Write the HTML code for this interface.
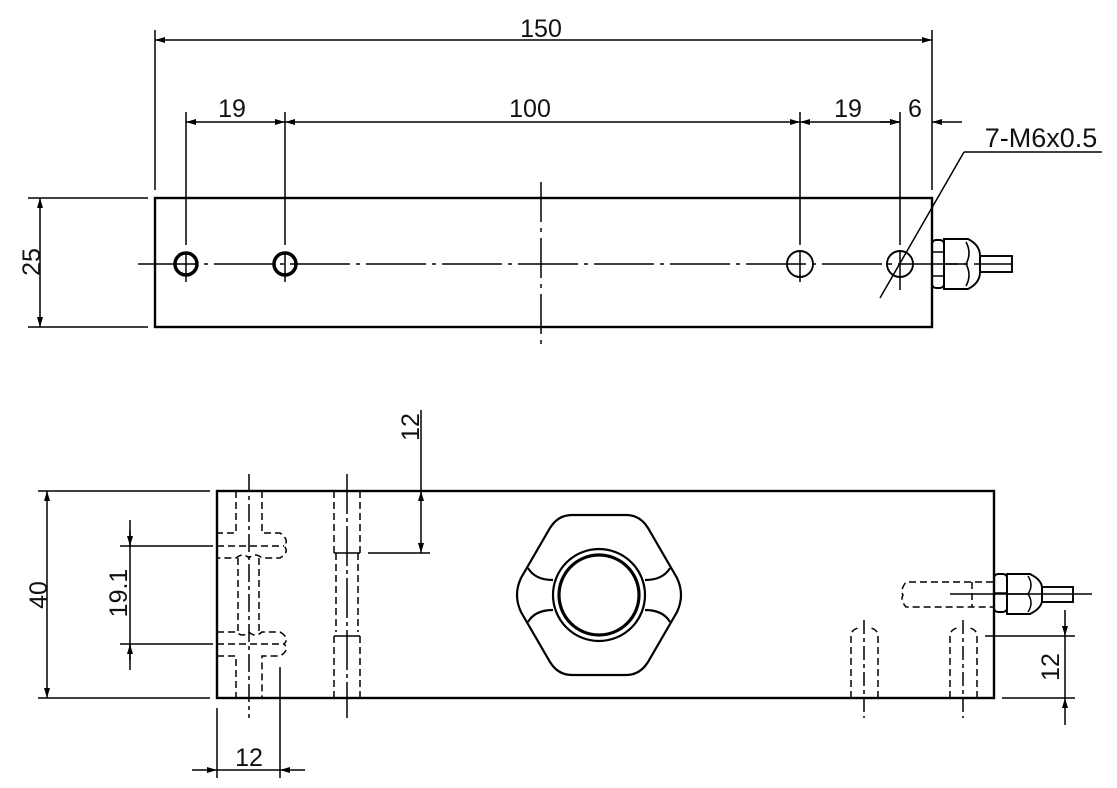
<!DOCTYPE html>
<html><head><style>
html,body{margin:0;padding:0;background:#fff;}
svg{display:block;}
text{font-family:"Liberation Sans",sans-serif;font-size:25px;fill:#111;}
</style></head><body>
<svg width="1117" height="788" viewBox="0 0 1117 788" xmlns="http://www.w3.org/2000/svg">
<defs>
<marker id="a" viewBox="0 0 10 6" refX="10" refY="3" markerWidth="10" markerHeight="6" orient="auto-start-reverse" markerUnits="userSpaceOnUse"><path d="M0,0 L10,3 L0,6 z" fill="#000"/></marker>
</defs>
<g stroke="#000" fill="none" stroke-width="1.5">
<!-- TOP VIEW -->
<rect x="155" y="198" width="777" height="129" stroke-width="2.4"/>
<line x1="155" y1="30" x2="155" y2="190"/>
<line x1="932" y1="30" x2="932" y2="190"/>
<line x1="155" y1="40" x2="932" y2="40" marker-start="url(#a)" marker-end="url(#a)"/>
<line x1="186" y1="112" x2="186" y2="245"/>
<line x1="285" y1="112" x2="285" y2="245"/>
<line x1="800" y1="112" x2="800" y2="245"/>
<line x1="900" y1="112" x2="900" y2="245"/>
<line x1="186" y1="122" x2="285" y2="122" marker-start="url(#a)" marker-end="url(#a)"/>
<line x1="285" y1="122" x2="800" y2="122" marker-start="url(#a)" marker-end="url(#a)"/>
<line x1="800" y1="122" x2="900" y2="122" marker-start="url(#a)" marker-end="url(#a)"/>
<line x1="932" y1="122" x2="962" y2="122" marker-start="url(#a)"/>
<line x1="880" y1="122" x2="900" y2="122" marker-end="url(#a)"/>
<line x1="28" y1="198" x2="148" y2="198"/>
<line x1="28" y1="327" x2="148" y2="327"/>
<line x1="40" y1="198" x2="40" y2="327" marker-start="url(#a)" marker-end="url(#a)"/>
<line x1="138" y1="264" x2="1012" y2="264" stroke-dasharray="60,6,4,6"/>
<line x1="541" y1="182" x2="541" y2="345" stroke-dasharray="40,6,4,6"/>
<line x1="186" y1="252" x2="186" y2="282"/>
<line x1="285" y1="252" x2="285" y2="282"/>
<line x1="800" y1="252" x2="800" y2="282"/>
<line x1="900" y1="252" x2="900" y2="290"/>
<circle cx="186" cy="264" r="11" stroke-width="3.5"/>
<circle cx="285" cy="264" r="11" stroke-width="3.5"/>
<circle cx="800" cy="264" r="13" stroke-width="1.9"/>
<circle cx="900" cy="264" r="13" stroke-width="1.9"/>
<line x1="880" y1="298" x2="964" y2="152"/>
<line x1="964" y1="152" x2="1102" y2="152"/>
<rect x="932" y="240" width="12" height="48" rx="4" stroke-width="1.9"/>
<line x1="932" y1="252" x2="944" y2="252"/><line x1="932" y1="276" x2="944" y2="276"/>
<path d="M944,239 H968 Q980,245 980,256 V272 Q980,283 968,289 H944 Z" stroke-width="1.9"/>
<path d="M944,264 H966 M966,242 Q972,253 966,264 Q972,275 966,286" stroke-width="1.6"/>
<rect x="980" y="256" width="32" height="16" stroke-width="1.9"/>

<!-- BOTTOM VIEW -->
<rect x="217" y="491" width="777" height="207" stroke-width="2.4"/>
<line x1="38" y1="491" x2="210" y2="491"/>
<line x1="38" y1="698" x2="210" y2="698"/>
<line x1="47" y1="491" x2="47" y2="698" marker-start="url(#a)" marker-end="url(#a)"/>
<line x1="120" y1="546" x2="213" y2="546"/>
<line x1="120" y1="644" x2="213" y2="644"/>
<line x1="130" y1="520" x2="130" y2="670"/>
<line x1="130" y1="530" x2="130" y2="546" marker-end="url(#a)"/>
<line x1="130" y1="660" x2="130" y2="644" marker-end="url(#a)"/>
<line x1="368" y1="553" x2="430" y2="553"/>
<line x1="421" y1="410" x2="421" y2="491"/>
<line x1="421" y1="491" x2="421" y2="553" marker-start="url(#a)" marker-end="url(#a)"/>
<line x1="217" y1="708" x2="217" y2="778"/>
<line x1="280" y1="667" x2="280" y2="778"/>
<line x1="192" y1="770" x2="217" y2="770" marker-end="url(#a)"/>
<line x1="305" y1="770" x2="280" y2="770" marker-end="url(#a)"/>
<line x1="217" y1="770" x2="280" y2="770"/>
<line x1="985" y1="636" x2="1075" y2="636"/>
<line x1="1002" y1="698" x2="1075" y2="698"/>
<line x1="1065" y1="610" x2="1065" y2="636" marker-end="url(#a)"/>
<line x1="1065" y1="725" x2="1065" y2="698" marker-end="url(#a)"/>
<line x1="1065" y1="636" x2="1065" y2="698"/>
<g stroke-dasharray="7,4">
<path d="M236,491 V533 H217 M262,491 V533 H280 Q290,540 284,546 Q290,552 280,558 H262 Q255,552 249,558 Q243,552 236,558 H217"/>
<path d="M238,558 V632 M259,558 V632"/>
<path d="M217,632 H236 Q243,638 249,632 Q255,638 262,632 H280 Q290,638 284,644 Q290,650 280,656 H262 V698 M217,656 H236 V698"/>
<line x1="217" y1="546" x2="284" y2="546"/>
<line x1="217" y1="644" x2="284" y2="644"/>
<path d="M334,491 V553 M360,491 V553 M336,553 V632 M358,553 V632 M334,636 V698 M360,636 V698"/>
<path d="M851,698 V636 Q851,630 858,628 M878,698 V636 Q878,630 871,628"/>
<path d="M950,698 V636 Q950,630 957,628 M977,698 V636 Q977,630 970,628"/>
<path d="M993,582 H906 Q900,590 903,595 Q900,600 906,607 H993"/>
<line x1="972" y1="582" x2="972" y2="607"/>
</g>
<line x1="334" y1="553" x2="360" y2="553"/>
<line x1="334" y1="636" x2="360" y2="636"/>
<line x1="249" y1="474" x2="249" y2="718" stroke-dasharray="18,4,4,4"/>
<line x1="347" y1="474" x2="347" y2="718" stroke-dasharray="40,4,4,4"/>
<line x1="864" y1="620" x2="864" y2="718" stroke-dasharray="14,4,4,4"/>
<line x1="963" y1="620" x2="963" y2="718" stroke-dasharray="14,4,4,4"/>
<line x1="950" y1="594" x2="1092" y2="594"/>
<g stroke-width="2.2">
<path d="M572,515 H626 Q640,515 648,528 L677,578 Q685,595 677,612 L648,662 Q640,675 626,675 H572 Q558,675 550,662 L521,612 Q513,595 521,578 L550,528 Q558,515 572,515 Z"/>
<path d="M528,568 Q535,580 553,580 M528,622 Q535,610 553,610 M670,568 Q663,580 645,580 M670,622 Q663,610 645,610"/>
<circle cx="599" cy="595" r="46"/>
<circle cx="599" cy="595" r="40" stroke-width="3.2"/>
</g>
<rect x="994" y="574" width="13" height="38" rx="4" stroke-width="1.9"/>
<line x1="994" y1="593" x2="1007" y2="593"/>
<path d="M1007,574 H1030 Q1042,580 1042,588 V600 Q1042,608 1030,614 H1007 Z" stroke-width="1.9"/>
<path d="M1007,594 H1028 M1028,576 Q1034,585 1028,594 Q1034,603 1028,612" stroke-width="1.5"/>
<rect x="1042" y="587" width="31" height="15" stroke-width="1.9"/>
</g>
<text x="541" y="37" text-anchor="middle">150</text>
<text x="232" y="117" text-anchor="middle">19</text>
<text x="530" y="117" text-anchor="middle">100</text>
<text x="848" y="117" text-anchor="middle">19</text>
<text x="915" y="117" text-anchor="middle">6</text>
<text x="1041" y="147" text-anchor="middle" style="font-size:27px">7-M6x0.5</text>
<text transform="translate(40,262) rotate(-90)" text-anchor="middle">25</text>
<text transform="translate(47,595) rotate(-90)" text-anchor="middle">40</text>
<text transform="translate(127,593) rotate(-90)" text-anchor="middle">19.1</text>
<text transform="translate(419,427) rotate(-90)" text-anchor="middle">12</text>
<text x="249" y="766" text-anchor="middle">12</text>
<text transform="translate(1059,667) rotate(-90)" text-anchor="middle">12</text>
</svg>
</body></html>
